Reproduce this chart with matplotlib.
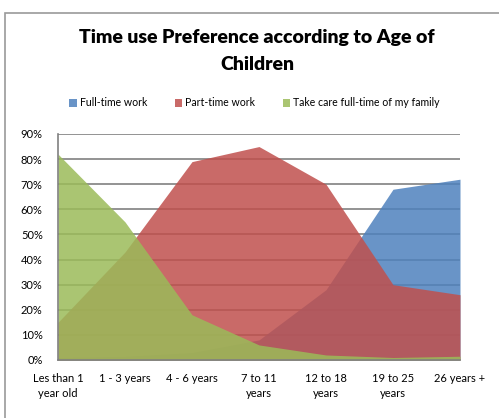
import matplotlib
matplotlib.use("Agg")
import matplotlib.pyplot as plt
from matplotlib.patches import Rectangle
import numpy as np

categories = ["Les than 1\nyear old", "1 - 3 years", "4 - 6 years", "7 to 11\nyears",
              "12 to 18\nyears", "19 to 25\nyears", "26 years +"]
full_time = [1, 1.5, 3, 8, 28, 68, 72]
part_time = [15, 43, 79, 85, 70, 30, 26]
take_care = [82, 55, 18, 6, 2, 1, 1.5]
series_names = ["Full-time work", "Part-time work", "Take care full-time of my family"]
colors = ["#4F81BD", "#C0504D", "#9BBB59"]

plt.rcParams['font.family'] = ['Lato', 'DejaVu Sans']

fig = plt.figure(figsize=(4.99, 4.18), dpi=100)
fig.patches.append(Rectangle((5/499, -0.01), 1.0, 1 - 13/418 + 0.01, transform=fig.transFigure,
                             fill=False, edgecolor="#9a9a9a", linewidth=1.2, zorder=0))

ax = fig.add_axes([58/499, 1 - 360/418, (460-58)/499, (360-134)/418])
x = np.arange(len(categories))
for vals, c, name in zip([full_time, part_time, take_care], colors, series_names):
    ax.fill_between(x, 0, vals, color=c, alpha=0.85, linewidth=0, label=name, zorder=2)

ax.set_xlim(0, 6)
ax.set_ylim(0, 90)
ax.set_yticks(np.arange(0, 91, 10))
ax.set_yticklabels([f"{v}%" for v in range(0, 91, 10)], fontsize=8)
ax.set_xticks(x)
ax.set_xticklabels(categories, fontsize=8, linespacing=1.45)
ax.tick_params(axis='both', length=0)
ax.tick_params(axis='y', pad=11)
ax.tick_params(axis='x', pad=9)
ax.grid(axis='y', color="#808080", linewidth=1.2, zorder=1)
ax.set_axisbelow(True)
for s in ["top", "right"]:
    ax.spines[s].set_visible(False)
for s in ["left", "bottom"]:
    ax.spines[s].set_color("#808080")
    ax.spines[s].set_linewidth(1.2)

fig.text(0.515, 1 - 38/418, "Time use Preference according to Age of", ha="center", va="center",
         fontsize=14, fontweight="heavy")
fig.text(0.515, 1 - 65/418, "Children", ha="center", va="center", fontsize=14, fontweight="heavy")

handles, labels = ax.get_legend_handles_labels()
leg = fig.legend(handles, labels, loc="center", bbox_to_anchor=(0.51, 1 - 103/418), ncol=3,
                 frameon=False, fontsize=7.6, handlelength=0.7, handleheight=0.7,
                 handletextpad=0.3, columnspacing=2.6)

fig.savefig("out.png", dpi=100)
